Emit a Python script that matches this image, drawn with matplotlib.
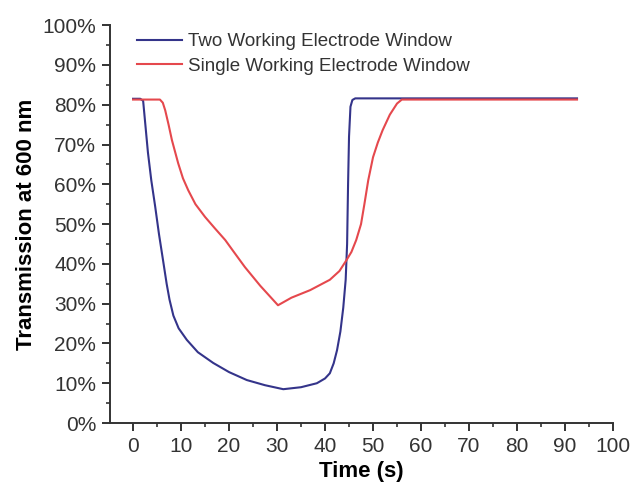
import matplotlib
matplotlib.use("Agg")
import matplotlib.pyplot as plt
from matplotlib.ticker import MultipleLocator, FuncFormatter

plt.rcParams['font.family'] = ['Liberation Sans', 'DejaVu Sans']

# transmission traces (time in s, transmission in %)
t_two = [0, 1.5, 2.1, 2.6, 3.1, 3.8, 4.6, 5.4, 6.3, 7.0, 7.6, 8.4, 9.5, 11.2,
         13.5, 16.7, 20.0, 23.7, 27.5, 31.3, 35.0, 38.3, 40.0, 41.0, 41.8, 42.5,
         43.2, 43.8, 44.3, 44.6, 44.8, 45.0, 45.3, 45.7, 46.3, 50.0, 92.5]
v_two = [81.5, 81.5, 81.0, 74.5, 68.0, 61.0, 54.5, 47.5, 40.5, 35.0, 31.0, 27.0, 23.8, 20.9,
         17.8, 15.1, 12.8, 10.8, 9.5, 8.5, 9.0, 10.0, 11.2, 12.5, 15.0, 18.3,
         23.0, 29.0, 36.0, 45.0, 60.0, 72.0, 79.5, 81.2, 81.6, 81.6, 81.6]

t_single = [0, 5.6, 6.2, 6.7, 7.4, 8.1, 9.4, 10.4, 11.5, 13.0, 15.0, 17.0, 19.2,
            21.0, 23.3, 26.5, 30.2, 33.0, 36.9, 41.0, 43.0, 44.5, 45.5, 46.5,
            47.5, 48.2, 49.0, 50.0, 51.0, 52.0, 53.5, 55.0, 56.0, 92.5]
v_single = [81.3, 81.3, 80.5, 78.6, 75.0, 71.1, 65.3, 61.5, 58.5, 55.0, 51.8, 49.0, 46.0,
            43.0, 39.2, 34.5, 29.6, 31.5, 33.4, 36.0, 38.2, 41.0, 43.0, 46.0,
            50.0, 55.0, 61.0, 66.8, 70.5, 73.6, 77.5, 80.3, 81.3, 81.3]

labels = ['Two Working Electrode Window', 'Single Working Electrode Window']

fig = plt.figure(figsize=(6.33, 4.84), dpi=100)
ax = fig.add_axes([0.1738, 0.126, 0.7946, 0.822])

ax.plot(t_two, v_two, color='#34348a', lw=1.5, label=labels[0], solid_joinstyle='round')
ax.plot(t_single, v_single, color='#e5484d', lw=1.5, label=labels[1], solid_joinstyle='round')

ax.set_xlim(-4.8, 100)
ax.set_ylim(0, 100)
ax.xaxis.set_major_locator(MultipleLocator(10))
ax.xaxis.set_minor_locator(MultipleLocator(5))
ax.yaxis.set_major_locator(MultipleLocator(10))
ax.yaxis.set_minor_locator(MultipleLocator(5))
ax.yaxis.set_major_formatter(FuncFormatter(lambda v, p: '%d%%' % v))

for s in ['top', 'right']:
    ax.spines[s].set_visible(False)
for s in ['left', 'bottom']:
    ax.spines[s].set_linewidth(1.4)
    ax.spines[s].set_color('#333333')

ax.tick_params(which='major', direction='out', length=6, width=1.4,
               color='#333333', labelsize=15, labelcolor='#333333', pad=4)
ax.tick_params(which='minor', direction='out', length=3, width=1.2, color='#333333')

ax.set_xlabel('Time (s)', fontsize=16, fontweight='bold', labelpad=4)
ax.set_ylabel('Transmission at 600 nm', fontsize=16, fontweight='bold', labelpad=4)

ax.legend(loc='upper left', bbox_to_anchor=(0.054, 0.98), frameon=False,
          fontsize=13.5, handlelength=2.4, handletextpad=0.3, labelspacing=0.4,
          borderpad=0, borderaxespad=0, labelcolor='#333333')

fig.savefig('out.png', dpi=100)
